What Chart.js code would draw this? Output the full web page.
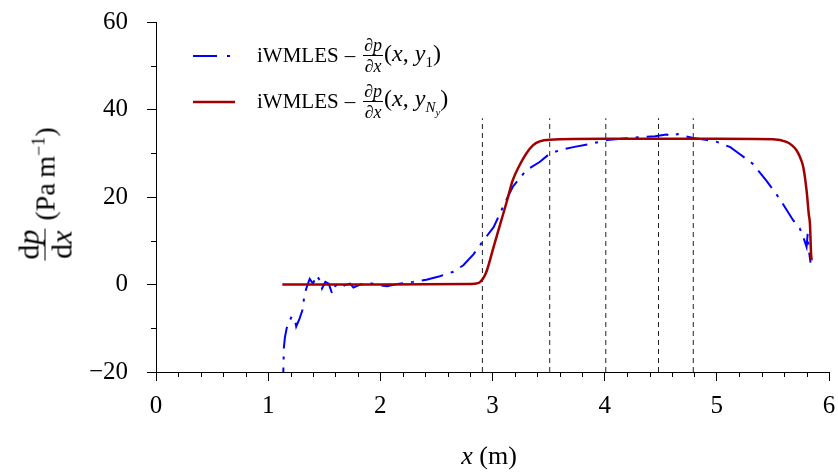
<!DOCTYPE html>
<html>
<head>
<meta charset="utf-8">
<script src="https://cdn.jsdelivr.net/npm/chart.js@4"></script>
<style>
  html, body { margin: 0; padding: 0; background: #fff; }
  #wrap { position: relative; width: 838px; height: 473px; font-family: "Liberation Serif", "DejaVu Serif", serif; color: #000; }
  #chart { position: absolute; left: 0; top: 0; }
  i { font-style: italic; }
  .frac { display: inline-flex; flex-direction: column; align-items: center; vertical-align: middle; line-height: 1; }
  .frac .num { border-bottom: 1px solid #000; padding: 0 1px 1px; }
  .frac .den { padding-top: 1px; }
  .leg { position: absolute; left: 193px; display: flex; align-items: center; font-size: 21px; white-space: nowrap; }
  .leg svg { margin-right: 16px; }
  .leg .dash { margin: 0 8px 0 6px; }
  .leg .m { font-size: 24px; display: flex; align-items: center; }
  .leg .frac { font-size: 18px; margin-right: 1px; }
  #ytitle { position: absolute; left: 45px; top: 194px; transform: translate(-50%, -50%) rotate(-90deg); font-size: 28px; white-space: nowrap; display: flex; align-items: center; }
  #ytitle .frac { margin-right: 8px; font-size: 30px; }
  #xtitle { position: absolute; left: 489px; top: 456px; transform: translate(-50%, -50%); font-size: 26px; white-space: nowrap; }
</style>
</head>
<body>
<div id="wrap">
  <canvas id="chart" width="838" height="473"></canvas>

  <div class="leg" style="top:36px">
    <svg width="48" height="10"><line x1="0" y1="5" x2="40" y2="5" stroke="#0000ff" stroke-width="2" stroke-dasharray="24 10 3 10"/></svg>
    <span>iWMLES</span><span class="dash">–</span><span class="m"><span class="frac"><span class="num">∂<i>p</i></span><span class="den">∂<i>x</i></span></span><span>(<i>x</i>, <i>y</i><sub style="font-size:15px">1</sub>)</span></span>
  </div>
  <div class="leg" style="top:82px">
    <svg width="48" height="10"><line x1="0" y1="5" x2="42" y2="5" stroke="#a00000" stroke-width="2.5"/></svg>
    <span>iWMLES</span><span class="dash">–</span><span class="m"><span class="frac"><span class="num">∂<i>p</i></span><span class="den">∂<i>x</i></span></span><span>(<i>x</i>, <i>y</i><sub style="font-size:15px"><i>N</i><sub style="font-size:11px"><i>y</i></sub></sub>)</span></span>
  </div>

  <div id="ytitle"><span class="frac"><span class="num">d<i>p</i></span><span class="den">d<i>x</i></span></span><span>(Pa&thinsp;m<sup style="font-size:18px">−1</sup>)</span></div>
  <div id="xtitle"><i>x</i> (m)</div>
</div>

<script>
// ─── Data ─────────────────────────────────────
const xTicks = [0, 1, 2, 3, 4, 5, 6];
const yTicks = [-20, 0, 20, 40, 60];

// iWMLES dp/dx at y1 (blue, dash-dot)
const blueX = [1.130, 1.135, 1.14, 1.15, 1.165, 1.18, 1.21, 1.24, 1.25, 1.28, 1.31, 1.32, 1.34, 1.37, 1.40, 1.43,
  1.46, 1.48, 1.51, 1.54, 1.57, 1.60, 1.64, 1.68, 1.73, 1.76, 1.82, 1.91, 2.00, 2.06, 2.17, 2.29, 2.41, 2.53,
  2.65, 2.74, 2.83, 2.92, 3.01, 3.10, 3.18, 3.30, 3.42, 3.51, 3.60, 3.72, 3.85, 4.02, 4.15, 4.31, 4.45, 4.55,
  4.60, 4.65, 4.70, 4.79, 4.90, 5.00, 5.12, 5.20, 5.32, 5.44, 5.56, 5.68, 5.74, 5.77, 5.80, 5.81, 5.82, 5.835];
const blueY = [-24, -20, -14.4, -12, -10, -8.9, -7.3, -8.2, -9.6, -7.8, -5.5, -2.9, -0.9, 1.3, 0.2, 2.1,
  1.0, -0.9, 0.6, 0.2, -2.1, -0.2, -0.8, -0.2, 0.2, -0.7, 0.0, 0.3, -0.2, -0.4, 0.2, 0.6, 1.1, 1.9,
  2.9, 4.4, 6.9, 10.1, 13.1, 18.1, 22.3, 26.1, 28.0, 29.9, 30.7, 31.4, 32.0, 33.0, 33.3, 33.7, 33.9, 34.3,
  33.9, 34.4, 34.0, 33.5, 33.1, 32.6, 31.4, 29.9, 27.6, 23.8, 19.6, 14.7, 12.8, 10.9, 8.6, 11.6, 8.0, 5.0];

// iWMLES dp/dx at yNy (dark red, solid)
const redX = [1.126, 2.00, 2.80, 2.87, 2.89, 2.92, 2.95, 3.01, 3.07, 3.13, 3.18, 3.24, 3.30, 3.36, 3.42, 3.51,
  4.00, 5.00, 5.50, 5.62, 5.67, 5.71, 5.74, 5.77, 5.80, 5.82, 5.83, 5.84, 5.845];
const redY = [0, 0, 0.1, 0.3, 0.6, 1.5, 3.2, 8.6, 13.9, 19.2, 23.8, 27.2, 29.9, 31.8, 32.7, 33.1,
  33.3, 33.3, 33.2, 32.6, 31.8, 30.7, 29.2, 26.9, 21.5, 16.0, 13.9, 7.1, 5.5];

// dashed vertical markers
const markerX = [2.91, 3.51, 4.01, 4.48, 4.79];
const markerTop = 38;

const pts = (xs, ys) => xs.map((x, i) => ({ x, y: ys[i] }));

// ─── Minor ticks (drawn on the library's scales) ──
const minorTicks = {
  id: 'minorTicks',
  afterDraw(chart) {
    const { ctx, scales: { x, y } } = chart;
    ctx.save();
    ctx.strokeStyle = '#000';
    ctx.lineWidth = 1;
    ctx.beginPath();
    for (let k = 0; k <= 30; k++) {
      if (k % 5 === 0) continue;
      const px = Math.round(x.getPixelForValue(k * 0.2)) + 0.5;
      ctx.moveTo(px, y.bottom);
      ctx.lineTo(px, y.bottom + 5);
    }
    for (let v = -10; v < 60; v += 20) {
      const py = Math.round(y.getPixelForValue(v)) + 0.5;
      ctx.moveTo(x.left - 5, py);
      ctx.lineTo(x.left, py);
    }
    ctx.stroke();
    ctx.restore();
  },
};

const tickFont = { family: '"Liberation Serif", serif', size: 25 };

const markerSets = markerX.map(mx => ({
  data: [{ x: mx, y: -20 }, { x: mx, y: markerTop }],
  borderColor: '#222', borderWidth: 1, borderDash: [5, 4],
  pointRadius: 0, order: 3,
}));

new Chart(document.getElementById('chart'), {
  type: 'line',
  data: {
    datasets: [
      {
        label: 'red', data: pts(redX, redY),
        borderColor: '#a00000', borderWidth: 2.5,
        cubicInterpolationMode: 'monotone', pointRadius: 0, order: 1,
      },
      {
        label: 'blue', data: pts(blueX, blueY),
        borderColor: '#0000ff', borderWidth: 2, borderDash: [22, 8, 3, 8],
        tension: 0, pointRadius: 0, order: 2,
      },
      ...markerSets,
    ],
  },
  options: {
    responsive: false,
    animation: false,
    layout: { padding: { top: 22, right: 9, left: 0, bottom: 0 } },
    plugins: { legend: { display: false }, tooltip: { enabled: false } },
    scales: {
      x: {
        type: 'linear', min: 0, max: 6,
        afterBuildTicks(s) { s.ticks = xTicks.map(v => ({ value: v })); },
        afterFit(s) { s.height = 101; s.paddingLeft = 0; s.paddingRight = 0; },
        grid: { drawOnChartArea: false, drawTicks: true, tickLength: 9, color: '#000' },
        border: { display: true, color: '#000', width: 1 },
        ticks: { color: '#000', font: tickFont, padding: 10, maxRotation: 0 },
      },
      y: {
        type: 'linear', min: -20, max: 60,
        afterBuildTicks(s) { s.ticks = yTicks.map(v => ({ value: v })); },
        afterFit(s) { s.width = 156; s.paddingTop = 0; s.paddingBottom = 0; },
        grid: { drawOnChartArea: false, drawTicks: true, tickLength: 9, color: '#000' },
        border: { display: true, color: '#000', width: 1 },
        ticks: { color: '#000', font: tickFont, padding: 19, callback: v => (v < 0 ? '−' + Math.abs(v) : String(v)) },
      },
    },
  },
  plugins: [minorTicks],
});
</script>
</body>
</html>
